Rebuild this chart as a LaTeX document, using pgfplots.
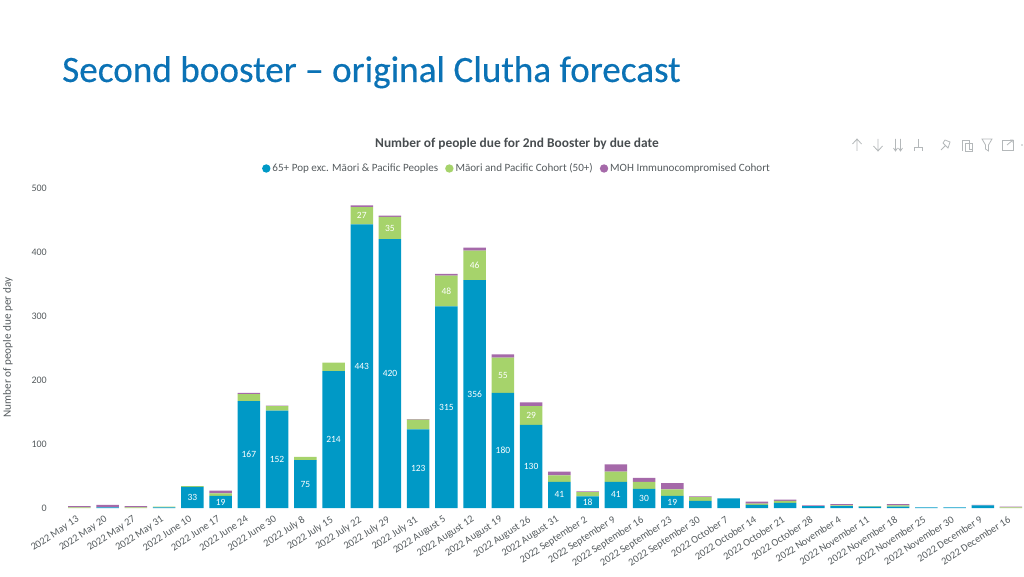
\documentclass[border=0pt]{standalone}
\usepackage{pgfplots}
\pgfplotsset{compat=1.18}
\usepackage{pgfplotstable}
\usepackage{fontspec}
\setmainfont{Carlito}
\newfontfamily\titlefont[FakeBold=0.3]{Carlito}
\definecolor{cblue}{HTML}{0099C6}
\definecolor{cgreen}{HTML}{A6D36B}
\definecolor{cpurple}{HTML}{A569A9}
\definecolor{ctitle}{HTML}{0B72B5}
\definecolor{ctext}{HTML}{555B5E}
\definecolor{cicon}{HTML}{B4B8BA}
\pgfplotstableread{
x a b c
0 0 1 2
1 1 0 4
2 0 1 2
3 1 1 0
4 33 1 0
5 19 4 4
6 167 11 2
7 152 7 1
8 75 5 0
9 214 13 0
10 443 27 3
11 420 35 2
12 123 15 1
13 315 48 3
14 356 46 5
15 180 55 5
16 130 29 6
17 41 10 6
18 18 7 1
19 41 16 11
20 30 11 6
21 19 10 10
22 11 6 1
23 15 0 0
24 5 2 3
25 8 3 2
26 3 0 1
27 3 1 2
28 2 1 0
29 2 2 2
30 1 0 0
31 1 0 0
32 4 0 1
33 0 1 1
}\boosterdata
\begin{document}
\begin{tikzpicture}[x=1pt,y=1pt]
\useasboundingbox (0,0) rectangle (1024,576);
\node[anchor=base west,inner sep=0pt,text=ctitle,font=\fontsize{37.2}{40}\titlefont] at (62,494) {Second booster – original Clutha forecast};
\node[text=ctext!85!black,font=\fontsize{13.4}{15}\selectfont\bfseries] at (517,432) {Number of people due for 2nd Booster by due date};
\node[rotate=90,text=ctext,font=\fontsize{11.2}{12}\selectfont] at (8,228.5) {Number of people due per day};
\begin{axis}[
  at={(51.27pt,68pt)},anchor=south west,
  scale only axis,width=971pt,height=320pt,
  xmin=-1,xmax=33.4,ymin=0,ymax=500,
  ybar stacked,bar width=22.5pt,
  axis line style={draw=none},
  major tick style={draw=none},
  ytick={0,100,200,300,400,500},
  yticklabel style={text=ctext,font=\fontsize{10}{12}\selectfont,xshift=-1pt},
  /pgf/number format/assume math mode=true,
  xtick={0,...,33},
  xticklabels={2022 May 13,2022 May 20,2022 May 27,2022 May 31,2022 June 10,2022 June 17,2022 June 24,2022 June 30,2022 July 8,2022 July 15,2022 July 22,2022 July 29,2022 July 31,2022 August 5,2022 August 12,2022 August 19,2022 August 26,2022 August 31,2022 September 2,2022 September 9,2022 September 16,2022 September 23,2022 September 30,2022 October 7,2022 October 14,2022 October 21,2022 October 28,2022 November 4,2022 November 11,2022 November 18,2022 November 25,2022 November 30,2022 December 9,2022 December 16},
  xticklabel style={rotate=33,anchor=north east,text=ctext,font=\fontsize{10.4}{12}\selectfont,inner sep=1pt,yshift=-3pt,xshift=-6pt},
  legend columns=3,
  legend style={draw=none,fill=none,at={(465.73pt,339.5pt)},anchor=center,font=\fontsize{11.1}{12}\selectfont,text=ctext,
    /tikz/every even column/.append style={column sep=5pt},inner sep=0pt},
  legend image code/.code={\fill[#1] (0.2em,0pt) circle (4.2pt);},
  visualization depends on={rawy \as \rawy},
  every node near coord/.append style={text=white,font=\fontsize{9.5}{11}\selectfont},
]
\addplot[fill=cblue,draw=none,nodes near coords={\ifdim\rawy pt<18pt\else\pgfmathprintnumber{\rawy}\fi}] table[x=x,y=a] {\boosterdata};
\addlegendentry{65+ Pop exc. Māori \& Pacific Peoples}
\addplot[fill=cgreen,draw=none,nodes near coords={\ifdim\rawy pt<27pt\else\pgfmathprintnumber{\rawy}\fi}] table[x=x,y=b] {\boosterdata};
\addlegendentry{Māori and Pacific Cohort (50+)}
\addplot[fill=cpurple,draw=none] table[x=x,y=c] {\boosterdata};
\addlegendentry{MOH Immunocompromised Cohort}
\end{axis}
\begin{scope}[draw=cicon,line width=0.8pt]
\draw (857,425) -- (857,437) (852.5,432) -- (857,437) -- (861.5,432);
\draw (878,437) -- (878,425) (873.5,430) -- (878,425) -- (882.5,430);
\draw (895.5,437) -- (895.5,425) (900.5,437) -- (900.5,425) (893.5,428) -- (895.5,425) -- (897.5,428) (898.5,428) -- (900.5,425) -- (902.5,428);
\draw (918,437) -- (918,432) (914,425) -- (914,429) -- (922,429) -- (922,425) (918,429)--(918,432);
\draw (941,426) -- (945,430) (943,433) -- (948,428) -- (950,434) -- (945,436) -- cycle;
\draw (962,425) -- (962,436) -- (969,436) -- (969,427) -- (972,427) -- (972,425) -- (965,425);
\draw (965,433) rectangle (972,425);
\draw (982,437) -- (992,437) -- (988.5,431) -- (988.5,425) -- (985.5,427) -- (985.5,431) -- cycle;
\draw (1002,426) rectangle (1013,436);
\draw (1007,431) -- (1013,436) (1010,436) -- (1013,436) -- (1013,433);
\fill[cicon] (1022,431) circle (0.9pt);
\end{scope}
\end{tikzpicture}
\end{document}
